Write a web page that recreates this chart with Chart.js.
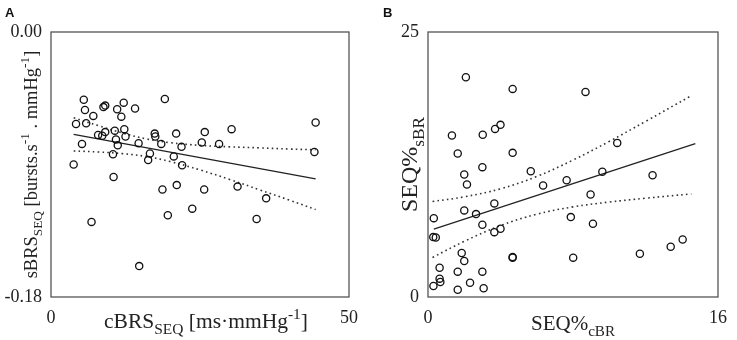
<!DOCTYPE html>
<html>
<head>
<meta charset="utf-8">
<script src="https://cdn.jsdelivr.net/npm/chart.js@4/dist/chart.umd.min.js"></script>
<style>
  body { margin: 0; background: #fff; }
  #wrap { position: relative; width: 737px; height: 340px; }
  canvas { position: absolute; top: 0; }
</style>
</head>
<body>
<div id="wrap">
  <canvas id="chartA" width="370" height="340" style="left:0"></canvas>
  <canvas id="chartB" width="367" height="340" style="left:370px"></canvas>
</div>
<script>
// panel A: cBRS vs sBRS
const xA = [5.5, 5.7, 4.2, 5.9, 7.1, 3.8, 5.2, 6.8, 8.8, 9.1, 7.9, 8.6, 9.1, 10.4, 10.5, 10.7, 10.9, 11.1, 11.2, 11.8,
  12.2, 12.3, 12.5, 14.1, 14.7, 14.8, 16.3, 16.6, 17.4, 17.5, 18.5, 18.7, 19.1, 19.6, 20.6, 21.0, 21.1, 21.9, 22.0, 23.7,
  25.3, 25.7, 25.8, 28.2, 30.3, 31.3, 34.5, 36.1, 44.4, 44.2];
const yA = [-0.046, -0.053, -0.0625, -0.062, -0.057, -0.090, -0.076, -0.129, -0.051, -0.050, -0.070, -0.0705, -0.068, -0.083,
  -0.0985, -0.067, -0.073, -0.0525, -0.077, -0.0575, -0.048, -0.066, -0.071, -0.052, -0.0755, -0.159, -0.087, -0.0825,
  -0.069, -0.071, -0.076, -0.107, -0.0455, -0.1245, -0.0845, -0.069, -0.104, -0.078, -0.0905, -0.120, -0.075, -0.107,
  -0.068, -0.076, -0.066, -0.105, -0.127, -0.113, -0.0615, -0.0815];
const fitAX = [3.8, 44.4];
const fitAY = [-0.0695, -0.0998];
const bandAX = [3.8, 8, 12, 16, 20, 25, 30, 35, 40, 44.4];
const bandAUpper = [-0.0582, -0.0637, -0.0686, -0.0726, -0.0752, -0.0770, -0.0780, -0.0787, -0.0795, -0.0800];
const bandALower = [-0.0808, -0.0815, -0.0826, -0.0846, -0.0880, -0.0937, -0.1002, -0.1072, -0.1142, -0.1206];
const xTicksA = [0, 50];
const yTicksA = [-0.18, 0];
const yTickLabelsA = ["-0.18", "0.00"];

// panel B: SEQ% cBR vs SEQ% sBR
const xB = [2.09, 4.67, 8.69, 1.32, 3.02, 3.70, 4.00, 1.64, 4.67, 10.44, 2.0, 3.0, 2.15, 5.67, 6.35, 7.65, 9.62, 12.39,
  8.97, 3.66, 2.0, 2.65, 0.32, 3.0, 7.88, 9.1, 0.29, 0.43, 3.66, 4.0, 14.05, 13.39, 11.69, 1.86, 2.0, 4.67, 4.67, 8.01,
  0.64, 1.64, 3.0, 0.64, 0.68, 0.30, 2.32, 1.64, 3.07];
const yB = [20.73, 19.63, 19.35, 15.23, 15.3, 15.86, 16.24, 13.54, 13.6, 14.54, 11.56, 12.25, 10.62, 11.87, 10.52, 11.02,
  11.81, 11.49, 9.67, 8.83, 8.17, 7.82, 7.44, 6.82, 7.54, 6.91, 5.65, 5.62, 6.12, 6.44, 5.43, 4.74, 4.08, 4.15, 3.39,
  3.71, 3.77, 3.71, 2.76, 2.39, 2.39, 1.73, 1.41, 1.04, 1.35, 0.69, 0.82];
const fitBX = [0.32, 14.75];
const fitBY = [6.41, 14.48];
const bandBX = [0.25, 2, 4, 6, 8, 10, 12, 14.53];
const bandBUpper = [9.01, 9.45, 10.21, 11.37, 12.92, 14.68, 16.56, 19.0];
const bandBLower = [3.73, 5.25, 6.73, 7.81, 8.50, 8.96, 9.32, 9.72];
const xTicksB = [0, 16];
const yTicksB = [0, 25];

const serif = "'Liberation Serif', 'Times New Roman', serif";

// text with sub/superscripts, drawn centered on (0,0) of the current transform
function richText(ctx, segs, size) {
  const small = size * 0.72;
  let total = 0;
  segs.forEach(s => {
    ctx.font = (s.m === "n" ? size : small) + "px " + serif;
    total += ctx.measureText(s.t).width;
  });
  let x = -total / 2;
  ctx.textBaseline = "alphabetic";
  ctx.textAlign = "left";
  segs.forEach(s => {
    ctx.font = (s.m === "n" ? size : small) + "px " + serif;
    let dy = 0;
    if (s.m === "sub") dy = size * 0.28;
    if (s.m === "sup") dy = -size * 0.42;
    ctx.fillText(s.t, x, dy);
    x += ctx.measureText(s.t).width;
  });
}

const decor = {
  id: "decor",
  afterDraw(chart, args, o) {
    const ctx = chart.ctx;
    const a = chart.chartArea;
    ctx.save();
    ctx.strokeStyle = "#555";
    ctx.lineWidth = 1.3;
    ctx.strokeRect(a.left, a.top, a.right - a.left, a.bottom - a.top);
    ctx.fillStyle = "#111";
    ctx.font = "bold 13px 'Liberation Sans', Arial, sans-serif";
    ctx.fillText(o.letter, o.letterX, 17);
    ctx.fillStyle = "#222";
    ctx.save();
    ctx.translate((a.left + a.right) / 2 + o.xShift, o.xBase);
    richText(ctx, o.xTitle, o.xSize);
    ctx.restore();
    ctx.save();
    ctx.translate(o.yBase, (a.top + a.bottom) / 2);
    ctx.rotate(-Math.PI / 2);
    richText(ctx, o.yTitle, o.ySize);
    ctx.restore();
    ctx.restore();
  }
};

function pts(xs, ys) {
  return xs.map((x, i) => ({ x: x, y: ys[i] }));
}

function makeChart(id, p) {
  return new Chart(document.getElementById(id), {
    type: "scatter",
    data: {
      datasets: [
        {
          data: pts(p.x, p.y),
          pointRadius: 3.6,
          pointBorderWidth: 1.3,
          borderColor: "#111",
          backgroundColor: "rgba(0,0,0,0)",
        },
        {
          data: pts(p.fitX, p.fitY),
          showLine: true,
          pointRadius: 0,
          borderColor: "#222",
          borderWidth: 1.3,
        },
        {
          data: pts(p.bandX, p.upper),
          showLine: true,
          pointRadius: 0,
          borderColor: "#333",
          borderWidth: 1.6,
          borderDash: [1.6, 3.2],
          tension: 0.4,
        },
        {
          data: pts(p.bandX, p.lower),
          showLine: true,
          pointRadius: 0,
          borderColor: "#333",
          borderWidth: 1.6,
          borderDash: [1.6, 3.2],
          tension: 0.4,
        },
      ],
    },
    options: {
      responsive: false,
      animation: false,
      layout: { padding: { top: 32, right: p.padRight, left: 0, bottom: 0 } },
      plugins: {
        legend: { display: false },
        tooltip: { enabled: false },
        decor: p.decor,
      },
      scales: {
        x: {
          type: "linear",
          min: p.xTicks[0],
          max: p.xTicks[1],
          grid: { display: false, drawTicks: false },
          border: { display: false },
          afterBuildTicks: (s) => { s.ticks = p.xTicks.map(v => ({ value: v })); },
          afterFit: (s) => { s.height = 43; },
          ticks: {
            padding: 10,
            maxRotation: 0,
            color: "#222",
            font: { family: serif, size: 18 },
            callback: (v) => String(v),
          },
        },
        y: {
          type: "linear",
          min: p.yTicks[0],
          max: p.yTicks[1],
          grid: { display: false, drawTicks: false },
          border: { display: false },
          afterBuildTicks: (s) => { s.ticks = p.yTicks.map(v => ({ value: v })); },
          afterFit: (s) => { s.width = p.yWidth; },
          ticks: {
            padding: 9,
            color: "#222",
            font: { family: serif, size: 18 },
            callback: (v, i) => p.yLabels[i],
          },
        },
      },
    },
    plugins: [decor],
  });
}

makeChart("chartA", {
  x: xA, y: yA, fitX: fitAX, fitY: fitAY,
  bandX: bandAX, upper: bandAUpper, lower: bandALower,
  xTicks: xTicksA, yTicks: yTicksA, yLabels: yTickLabelsA,
  yWidth: 51, padRight: 21,
  decor: {
    letter: "A", letterX: 5, xSize: 21.5, ySize: 18.5, xBase: 328, yBase: 37, xShift: 6,
    xTitle: [{ t: "cBRS", m: "n" }, { t: "SEQ", m: "sub" }, { t: " [ms\u00b7mmHg", m: "n" }, { t: "-1", m: "sup" }, { t: "]", m: "n" }],
    yTitle: [{ t: "sBRS", m: "n" }, { t: "SEQ", m: "sub" }, { t: " [bursts.s", m: "n" }, { t: "-1", m: "sup" },
      { t: " . mmHg", m: "n" }, { t: "-1", m: "sup" }, { t: "]", m: "n" }],
  },
});

makeChart("chartB", {
  x: xB, y: yB, fitX: fitBX, fitY: fitBY,
  bandX: bandBX, upper: bandBUpper, lower: bandBLower,
  xTicks: xTicksB, yTicks: yTicksB, yLabels: yTicksB.map(String),
  yWidth: 58, padRight: 10,
  decor: {
    letter: "B", letterX: 13, xSize: 21, ySize: 24, xBase: 330, yBase: 47, xShift: 0,
    xTitle: [{ t: "SEQ%", m: "n" }, { t: "cBR", m: "sub" }],
    yTitle: [{ t: "SEQ%", m: "n" }, { t: "sBR", m: "sub" }],
  },
});
</script>
</body>
</html>
